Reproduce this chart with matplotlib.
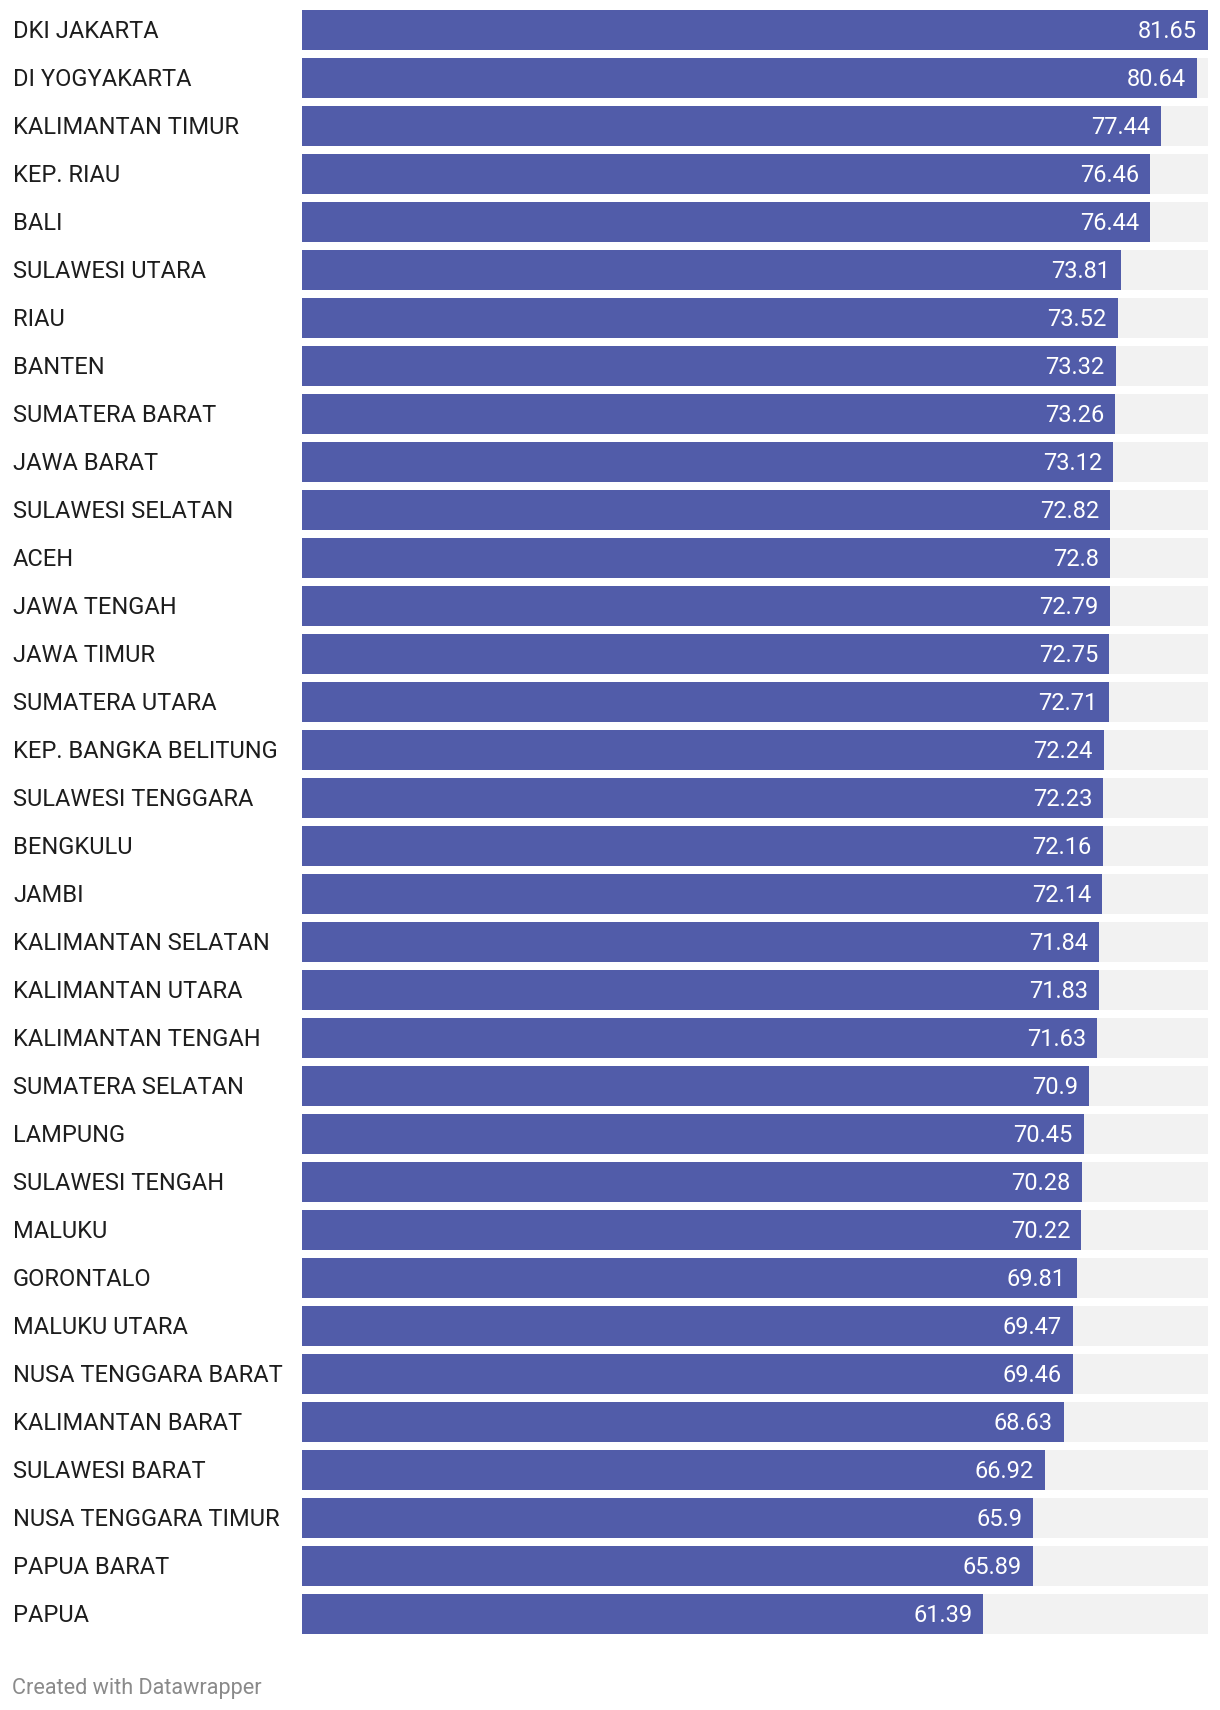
import matplotlib
matplotlib.use("Agg")
import matplotlib.pyplot as plt
import matplotlib.transforms as mtransforms

provinces = [
    "DKI JAKARTA", "DI YOGYAKARTA", "KALIMANTAN TIMUR", "KEP. RIAU", "BALI",
    "SULAWESI UTARA", "RIAU", "BANTEN", "SUMATERA BARAT", "JAWA BARAT",
    "SULAWESI SELATAN", "ACEH", "JAWA TENGAH", "JAWA TIMUR", "SUMATERA UTARA",
    "KEP. BANGKA BELITUNG", "SULAWESI TENGGARA", "BENGKULU", "JAMBI",
    "KALIMANTAN SELATAN", "KALIMANTAN UTARA", "KALIMANTAN TENGAH",
    "SUMATERA SELATAN", "LAMPUNG", "SULAWESI TENGAH", "MALUKU", "GORONTALO",
    "MALUKU UTARA", "NUSA TENGGARA BARAT", "KALIMANTAN BARAT", "SULAWESI BARAT",
    "NUSA TENGGARA TIMUR", "PAPUA BARAT", "PAPUA",
]
values = [
    81.65, 80.64, 77.44, 76.46, 76.44, 73.81, 73.52, 73.32, 73.26, 73.12,
    72.82, 72.8, 72.79, 72.75, 72.71, 72.24, 72.23, 72.16, 72.14, 71.84,
    71.83, 71.63, 70.9, 70.45, 70.28, 70.22, 69.81, 69.47, 69.46, 68.63,
    66.92, 65.9, 65.89, 61.39,
]

W, H = 1220, 1710
fig = plt.figure(figsize=(W / 100, H / 100), dpi=100)
fig.patch.set_facecolor("white")

left_px, right_px, top_px, bottom_px = 302, 1208, 10, 1634
ax = fig.add_axes([left_px / W, 1 - bottom_px / H,
                   (right_px - left_px) / W, (bottom_px - top_px) / H])

n = len(values)
bh = 40 / 48
ys = list(range(n))
vmax = max(values)

ax.barh(ys, [vmax] * n, height=bh, color="#f2f2f2", linewidth=0, zorder=1)
ax.barh(ys, values, height=bh, color="#515ca9", linewidth=0, zorder=2)

ax.set_xlim(0, vmax)
ax.set_ylim(n - 1 + bh / 2, -bh / 2)
ax.axis("off")

font = ["Roboto", "DejaVu Sans"]
trans = mtransforms.blended_transform_factory(fig.transFigure, ax.transData)
for y, name, v in zip(ys, provinces, values):
    ax.annotate(name, xy=(13 / W, y), xycoords=trans, xytext=(0, -1.5),
                textcoords="offset pixels", ha="left", va="center",
                fontsize=17, color="#1d1d1d", family=font)
    ax.annotate(f"{v:g}", xy=(v, y), xytext=(-11, -1.5), textcoords="offset pixels",
                ha="right", va="center", fontsize=17, color="white",
                family=font, zorder=3)

fig.text(12 / W, 1 - 1688 / H, "Created with Datawrapper", ha="left",
         va="center", fontsize=15.6, color="#8a8a8a", family=font)

fig.savefig("out.png", dpi=100, facecolor="white")
